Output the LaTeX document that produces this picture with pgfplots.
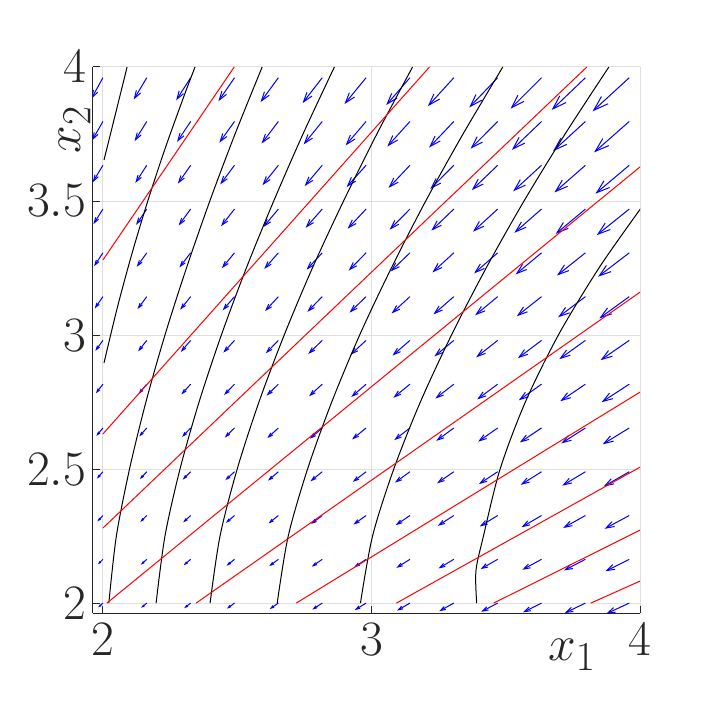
\documentclass[border=0pt]{standalone}
\usepackage{pgfplots}
\pgfplotsset{compat=1.18}
\usepackage{pgfplotstable}
\usetikzlibrary{arrows.meta}
\definecolor{gridgray}{RGB}{223,223,223}
\definecolor{axgray}{RGB}{38,38,38}

% quiver field: base point (x,y) and arrow (u,v)
\pgfplotstableread{
x y u v
2.0000 2.0000 -0.0176 -0.0162
2.1633 2.0000 -0.0207 -0.0175
2.3267 2.0000 -0.0241 -0.0190
2.4900 2.0000 -0.0279 -0.0206
2.6533 2.0000 -0.0322 -0.0223
2.8167 2.0000 -0.0370 -0.0241
2.9800 2.0000 -0.0422 -0.0260
3.1433 2.0000 -0.0480 -0.0280
3.3067 2.0000 -0.0543 -0.0302
3.4700 2.0000 -0.0612 -0.0324
3.6333 2.0000 -0.0687 -0.0347
3.7967 2.0000 -0.0769 -0.0372
3.9600 2.0000 -0.0857 -0.0398
2.0000 2.1633 -0.0191 -0.0190
2.1633 2.1633 -0.0223 -0.0204
2.3267 2.1633 -0.0258 -0.0221
2.4900 2.1633 -0.0298 -0.0238
2.6533 2.1633 -0.0342 -0.0256
2.8167 2.1633 -0.0391 -0.0276
2.9800 2.1633 -0.0444 -0.0296
3.1433 2.1633 -0.0503 -0.0318
3.3067 2.1633 -0.0568 -0.0341
3.4700 2.1633 -0.0638 -0.0365
3.6333 2.1633 -0.0715 -0.0391
3.7967 2.1633 -0.0798 -0.0417
3.9600 2.1633 -0.0887 -0.0445
2.0000 2.3267 -0.0207 -0.0221
2.1633 2.3267 -0.0240 -0.0237
2.3267 2.3267 -0.0277 -0.0255
2.4900 2.3267 -0.0318 -0.0273
2.6533 2.3267 -0.0363 -0.0293
2.8167 2.3267 -0.0414 -0.0314
2.9800 2.3267 -0.0469 -0.0336
3.1433 2.3267 -0.0529 -0.0359
3.3067 2.3267 -0.0595 -0.0384
3.4700 2.3267 -0.0666 -0.0410
3.6333 2.3267 -0.0744 -0.0437
3.7967 2.3267 -0.0828 -0.0466
3.9600 2.3267 -0.0919 -0.0496
2.0000 2.4900 -0.0224 -0.0257
2.1633 2.4900 -0.0259 -0.0274
2.3267 2.4900 -0.0297 -0.0292
2.4900 2.4900 -0.0340 -0.0312
2.6533 2.4900 -0.0386 -0.0333
2.8167 2.4900 -0.0438 -0.0355
2.9800 2.4900 -0.0494 -0.0379
3.1433 2.4900 -0.0556 -0.0404
3.3067 2.4900 -0.0623 -0.0431
3.4700 2.4900 -0.0696 -0.0459
3.6333 2.4900 -0.0775 -0.0488
3.7967 2.4900 -0.0861 -0.0519
3.9600 2.4900 -0.0953 -0.0550
2.0000 2.6533 -0.0243 -0.0296
2.1633 2.6533 -0.0279 -0.0314
2.3267 2.6533 -0.0319 -0.0334
2.4900 2.6533 -0.0363 -0.0355
2.6533 2.6533 -0.0411 -0.0377
2.8167 2.6533 -0.0464 -0.0401
2.9800 2.6533 -0.0522 -0.0427
3.1433 2.6533 -0.0585 -0.0453
3.3067 2.6533 -0.0654 -0.0482
3.4700 2.6533 -0.0728 -0.0511
3.6333 2.6533 -0.0809 -0.0542
3.7967 2.6533 -0.0896 -0.0575
3.9600 2.6533 -0.0990 -0.0609
2.0000 2.8167 -0.0263 -0.0340
2.1633 2.8167 -0.0300 -0.0359
2.3267 2.8167 -0.0342 -0.0380
2.4900 2.8167 -0.0387 -0.0402
2.6533 2.8167 -0.0437 -0.0426
2.8167 2.8167 -0.0492 -0.0451
2.9800 2.8167 -0.0551 -0.0478
3.1433 2.8167 -0.0616 -0.0507
3.3067 2.8167 -0.0686 -0.0537
3.4700 2.8167 -0.0762 -0.0568
3.6333 2.8167 -0.0845 -0.0601
3.7967 2.8167 -0.0934 -0.0636
3.9600 2.8167 -0.1029 -0.0672
2.0000 2.9800 -0.0283 -0.0388
2.1633 2.9800 -0.0323 -0.0408
2.3267 2.9800 -0.0366 -0.0430
2.4900 2.9800 -0.0413 -0.0454
2.6533 2.9800 -0.0465 -0.0479
2.8167 2.9800 -0.0521 -0.0506
2.9800 2.9800 -0.0582 -0.0535
3.1433 2.9800 -0.0649 -0.0565
3.3067 2.9800 -0.0721 -0.0596
3.4700 2.9800 -0.0799 -0.0630
3.6333 2.9800 -0.0882 -0.0665
3.7967 2.9800 -0.0973 -0.0701
3.9600 2.9800 -0.1070 -0.0739
2.0000 3.1433 -0.0305 -0.0441
2.1633 3.1433 -0.0346 -0.0462
2.3267 3.1433 -0.0391 -0.0486
2.4900 3.1433 -0.0440 -0.0510
2.6533 3.1433 -0.0494 -0.0537
2.8167 3.1433 -0.0552 -0.0566
2.9800 3.1433 -0.0615 -0.0596
3.1433 3.1433 -0.0683 -0.0627
3.3067 3.1433 -0.0757 -0.0661
3.4700 3.1433 -0.0837 -0.0696
3.6333 3.1433 -0.0922 -0.0733
3.7967 3.1433 -0.1015 -0.0771
3.9600 3.1433 -0.1113 -0.0811
2.0000 3.3067 -0.0329 -0.0499
2.1633 3.3067 -0.0372 -0.0521
2.3267 3.3067 -0.0418 -0.0546
2.4900 3.3067 -0.0469 -0.0572
2.6533 3.3067 -0.0525 -0.0600
2.8167 3.3067 -0.0585 -0.0630
2.9800 3.3067 -0.0650 -0.0662
3.1433 3.3067 -0.0720 -0.0695
3.3067 3.3067 -0.0796 -0.0730
3.4700 3.3067 -0.0877 -0.0767
3.6333 3.3067 -0.0965 -0.0806
3.7967 3.3067 -0.1059 -0.0847
3.9600 3.3067 -0.1159 -0.0889
2.0000 3.4700 -0.0353 -0.0562
2.1633 3.4700 -0.0398 -0.0586
2.3267 3.4700 -0.0447 -0.0612
2.4900 3.4700 -0.0500 -0.0639
2.6533 3.4700 -0.0557 -0.0669
2.8167 3.4700 -0.0619 -0.0700
2.9800 3.4700 -0.0686 -0.0733
3.1433 3.4700 -0.0758 -0.0768
3.3067 3.4700 -0.0836 -0.0805
3.4700 3.4700 -0.0919 -0.0844
3.6333 3.4700 -0.1009 -0.0885
3.7967 3.4700 -0.1105 -0.0927
3.9600 3.4700 -0.1208 -0.0972
2.0000 3.6333 -0.0378 -0.0631
2.1633 3.6333 -0.0425 -0.0656
2.3267 3.6333 -0.0476 -0.0683
2.4900 3.6333 -0.0531 -0.0712
2.6533 3.6333 -0.0591 -0.0743
2.8167 3.6333 -0.0655 -0.0776
2.9800 3.6333 -0.0724 -0.0810
3.1433 3.6333 -0.0798 -0.0847
3.3067 3.6333 -0.0878 -0.0886
3.4700 3.6333 -0.0963 -0.0926
3.6333 3.6333 -0.1055 -0.0969
3.7967 3.6333 -0.1153 -0.1013
3.9600 3.6333 -0.1258 -0.1060
2.0000 3.7967 -0.0405 -0.0706
2.1633 3.7967 -0.0454 -0.0732
2.3267 3.7967 -0.0508 -0.0760
2.4900 3.7967 -0.0565 -0.0791
2.6533 3.7967 -0.0626 -0.0823
2.8167 3.7967 -0.0693 -0.0857
2.9800 3.7967 -0.0764 -0.0893
3.1433 3.7967 -0.0840 -0.0932
3.3067 3.7967 -0.0922 -0.0972
3.4700 3.7967 -0.1010 -0.1015
3.6333 3.7967 -0.1104 -0.1059
3.7967 3.7967 -0.1204 -0.1106
3.9600 3.7967 -0.1311 -0.1154
2.0000 3.9600 -0.0433 -0.0787
2.1633 3.9600 -0.0485 -0.0814
2.3267 3.9600 -0.0540 -0.0844
2.4900 3.9600 -0.0599 -0.0875
2.6533 3.9600 -0.0663 -0.0909
2.8167 3.9600 -0.0732 -0.0945
2.9800 3.9600 -0.0805 -0.0982
3.1433 3.9600 -0.0884 -0.1022
3.3067 3.9600 -0.0968 -0.1065
3.4700 3.9600 -0.1058 -0.1109
3.6333 3.9600 -0.1154 -0.1155
3.7967 3.9600 -0.1257 -0.1204
3.9600 3.9600 -0.1366 -0.1254
}\quivtab

\begin{document}
\begin{tikzpicture}
\path[use as bounding box] (-46.5bp,-46.5bp) rectangle (306.5bp,306.5bp);
\begin{axis}[
  at={(0,0)}, anchor=south west,
  scale only axis, width=273.5bp, height=273bp,
  xmin=1.963, xmax=4, ymin=1.963, ymax=4,
  axis x line*=bottom, axis y line*=left,
  axis line style={axgray, line width=0.5bp, -},
  xtick={2,3,4}, ytick={2,2.5,3,3.5,4},
  tick align=inside, major tick length=3.5bp,
  tick style={axgray, line width=0.5bp},
  grid=major, major grid style={gridgray, line width=0.5bp},
  tick label style={font=\fontsize{23.5}{28}\selectfont, text=axgray},
  xticklabel style={yshift=-2bp},
  xlabel={$x_1$}, ylabel={$x_2$},
  label style={font=\fontsize{30}{36}\selectfont, text=axgray},
  xlabel style={at={(axis description cs:0.876,-0.077)}, anchor=center},
  ylabel style={at={(axis description cs:-0.033,0.885)}, anchor=center},
  point meta min=0, point meta max=0.2,
]
\addplot[blue, line width=0.5bp,
  point meta={sqrt((\thisrow{u})^2+(\thisrow{v})^2)},
  quiver={u=\thisrow{u}, v=\thisrow{v},
    every arrow/.append style={
      /utils/exec={\pgfmathsetmacro\qhl{0.00804*\pgfplotspointmetatransformed}%
                   \pgfmathsetmacro\qhw{0.0053*\pgfplotspointmetatransformed}},
      -{Straight Barb[length=\qhl bp, width=\qhw bp]}}}]
  table[x=x, y=y] {\quivtab};

% black curves
\addplot[black, line width=0.5bp] coordinates {(2.004,3.653) (2.090,4.000)};
\addplot[black, line width=0.5bp, smooth] coordinates {(2.004,2.896) (2.053,3.1) (2.107,3.3) (2.167,3.5) (2.233,3.7) (2.305,3.9) (2.343,4.0)};
\addplot[black, line width=0.5bp, smooth] coordinates {(2.022,2.00) (2.050,2.25) (2.099,2.50) (2.160,2.75) (2.231,3.00) (2.311,3.25) (2.398,3.50) (2.492,3.75) (2.593,4.00)};
\addplot[black, line width=0.5bp, smooth] coordinates {(2.198,2.00) (2.231,2.25) (2.287,2.50) (2.358,2.75) (2.441,3.00) (2.534,3.25) (2.636,3.50) (2.745,3.75) (2.862,4.00)};
\addplot[black, line width=0.5bp, smooth] coordinates {(2.399,2.00) (2.436,2.25) (2.500,2.50) (2.581,2.75) (2.675,3.00) (2.780,3.25) (2.896,3.50) (3.020,3.75) (3.153,4.00)};
\addplot[black, line width=0.5bp, smooth] coordinates {(2.649,2.00) (2.690,2.25) (2.762,2.50) (2.852,2.75) (2.956,3.00) (3.074,3.25) (3.202,3.50) (3.341,3.75) (3.489,4.00)};
\addplot[black, line width=0.5bp, smooth] coordinates {(2.959,2.00) (3.004,2.25) (3.083,2.50) (3.182,2.75) (3.298,3.00) (3.427,3.25) (3.568,3.50) (3.721,3.75) (3.884,4.00)};
\addplot[black, line width=0.5bp, smooth] coordinates {(3.392,2.00) (3.389,2.12) (3.417,2.25) (3.479,2.50) (3.573,2.75) (3.696,3.00) (3.847,3.25) (4.004,3.474)};

% red lines
\addplot[red, line width=0.5bp] coordinates {(2.000,3.280) (2.489,4.000)};
\addplot[red, line width=0.5bp] coordinates {(2.000,2.631) (3.216,4.000)};
\addplot[red, line width=0.5bp] coordinates {(2.000,2.280) (3.802,4.000)};
\addplot[red, line width=0.5bp] coordinates {(2.015,2.000) (4.000,3.627)};
\addplot[red, line width=0.5bp] coordinates {(2.347,2.000) (4.000,3.160)};
\addplot[red, line width=0.5bp] coordinates {(2.720,2.000) (4.000,2.787)};
\addplot[red, line width=0.5bp] coordinates {(3.093,2.000) (4.000,2.507)};
\addplot[red, line width=0.5bp] coordinates {(3.455,2.000) (4.000,2.272)};
\addplot[red, line width=0.5bp] coordinates {(3.817,2.000) (4.000,2.082)};
\end{axis}
\end{tikzpicture}
\end{document}
